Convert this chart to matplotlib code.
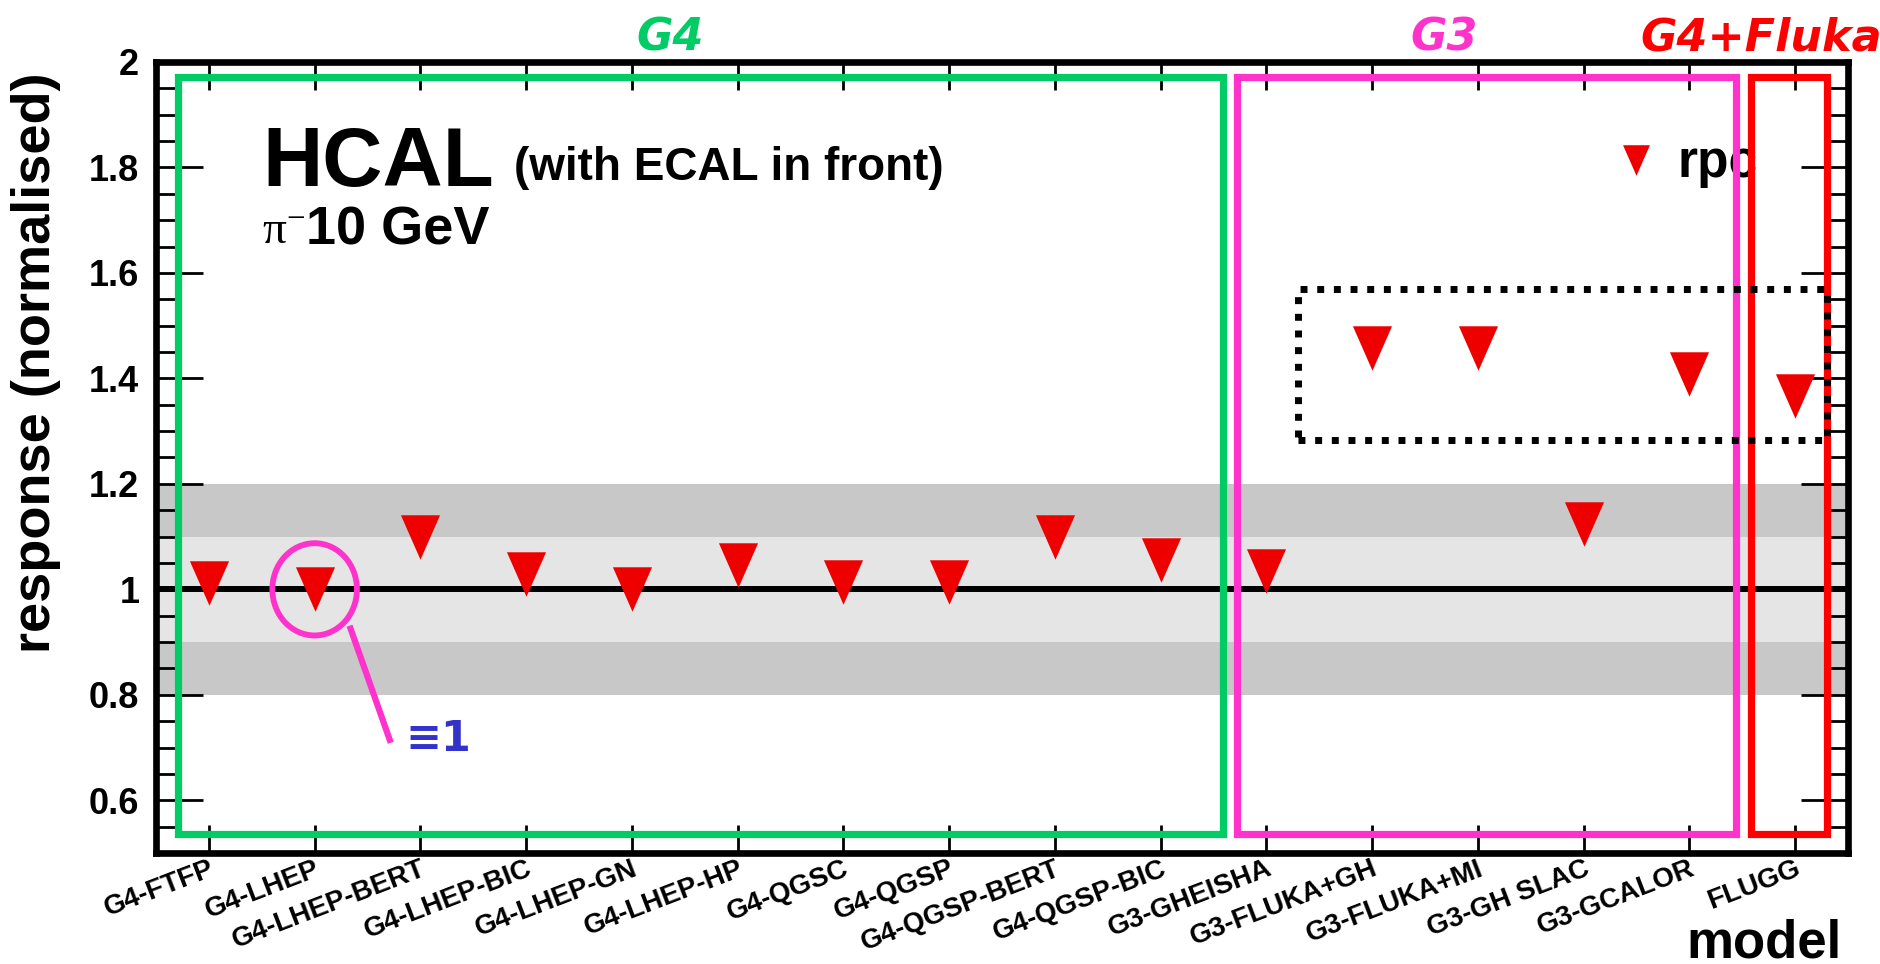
import matplotlib
matplotlib.use("Agg")
import matplotlib.pyplot as plt
from matplotlib.patches import Rectangle, Ellipse
from matplotlib.ticker import MultipleLocator, FormatStrFormatter
from matplotlib.transforms import blended_transform_factory

# data
models = ['G4-FTFP', 'G4-LHEP', 'G4-LHEP-BERT', 'G4-LHEP-BIC', 'G4-LHEP-GN',
          'G4-LHEP-HP', 'G4-QGSC', 'G4-QGSP', 'G4-QGSP-BERT', 'G4-QGSP-BIC',
          'G3-GHEISHA', 'G3-FLUKA+GH', 'G3-FLUKA+MI', 'G3-GH SLAC',
          'G3-GCALOR', 'FLUGG']
response = [1.012, 1.00, 1.100, 1.030, 1.00, 1.046, 1.013, 1.013, 1.099,
            1.056, 1.034, 1.457, 1.458, 1.123, 1.408, 1.366]
y_ticks = [0.6, 0.8, 1.0, 1.2, 1.4, 1.6, 1.8, 2.0]
outer_band = [0.8, 1.2]
inner_band = [0.9, 1.1]
reference_level = 1.0

group_names = ['G4', 'G3', 'G4+Fluka']
group_colors = ['#00cc66', '#ff33cc', '#ff0000']

plt.rcParams['font.family'] = ['Liberation Sans', 'DejaVu Sans']
plt.rcParams['font.weight'] = 'bold'

fig = plt.figure(figsize=(18.81, 9.64), dpi=100)
ax = fig.add_axes([0.08294, 0.11515, 0.89952, 0.82054])

x = list(range(len(models)))
ax.set_xlim(-0.5, len(models) - 0.5)
ax.set_ylim(0.5, 2.0)

# grey bands and the unit line
ax.axhspan(outer_band[0], outer_band[1], color='#c8c8c8', lw=0, zorder=0)
ax.axhspan(inner_band[0], inner_band[1], color='#e5e5e5', lw=0, zorder=0.5)
ax.axhline(reference_level, color='k', lw=4.3, zorder=1)

tri = [(-0.88, 1), (0.88, 1), (0, -1)]
ax.plot(x, response, ls='none', marker=tri, ms=32, color='#ee0000',
        markeredgewidth=0, zorder=3)

# axes styling
for side in ['top', 'bottom', 'left', 'right']:
    ax.spines[side].set_linewidth(4.8)
    ax.spines[side].set_zorder(10)
ax.set_xticks(x)
ax.set_xticklabels(models, rotation=21, ha='right', va='top',
                   rotation_mode='anchor', fontsize=20, fontweight='bold')
ax.set_yticks(y_ticks)
ax.yaxis.set_major_formatter(FormatStrFormatter('%g'))
ax.yaxis.set_minor_locator(MultipleLocator(0.05))
ax.tick_params(axis='y', which='major', direction='in', length=34, width=2,
               labelsize=26, pad=12, left=True, right=True)
ax.tick_params(axis='y', which='minor', direction='in', length=14, width=2,
               left=True, right=True)
ax.tick_params(axis='x', which='major', direction='in', length=20, width=2,
               pad=2, top=True, bottom=True)
for tl in ax.get_yticklabels():
    tl.set_fontweight('bold')

fig.text(36 / 1881, 1 - 72 / 964, 'response (normalised)', rotation=90,
         ha='center', va='top', fontsize=39, fontweight='bold')
fig.text(1842 / 1881, 1 - 958 / 964, 'model', ha='right', va='baseline',
         fontsize=38, fontweight='bold')

# titles inside the frame
ax.text(0.0626, 0.843, 'HCAL', transform=ax.transAxes, fontsize=60,
        fontweight='bold', va='baseline')
ax.text(0.2116, 0.851, '(with ECAL in front)', transform=ax.transAxes,
        fontsize=33, fontweight='bold', va='baseline')
ax.text(0.0626, 0.7696, r'$\mathregular{\pi^{-}}$', transform=ax.transAxes,
        family='Liberation Serif', fontweight='normal', fontsize=34,
        va='baseline')
ax.text(0.0885, 0.7696, '10 GeV', transform=ax.transAxes, fontsize=39,
        fontweight='bold', va='baseline')

# legend
ax.plot([0.8747], [0.876], ls='none', marker=tri, ms=22, color='#ee0000',
        markeredgewidth=0, transform=ax.transAxes, zorder=4)
ax.text(0.8995, 0.854, 'rpc', transform=ax.transAxes, fontsize=37,
        fontweight='bold', va='baseline', zorder=4)

# hand-drawn group boxes
box_x = [(-0.29, 9.59), (9.725, 14.445), (14.585, 15.30)]
box_y = (0.536, 1.971)
label_x = [4.36, 11.68, 14.68]
top_tr = blended_transform_factory(ax.transData, fig.transFigure)
for (x0, x1), name, col, lx in zip(box_x, group_names, group_colors, label_x):
    ax.add_patch(Rectangle((x0, box_y[0]), x1 - x0, box_y[1] - box_y[0],
                           fill=False, ec=col, lw=5.2, joinstyle='miter',
                           zorder=6))
    ax.text(lx, 0.948, name, transform=top_tr, color=col, fontsize=32,
            family='DejaVu Sans', fontweight='bold', style='italic',
            ha='center', va='baseline', clip_on=False)

ax.add_patch(Rectangle((10.3, 1.283), 5.0, 0.287, fill=False, ec='k', lw=5,
                       ls=(0, (1.0, 1.4)), zorder=7))

# circle marking the normalisation model
ax.add_patch(Ellipse((1, reference_level), 0.80, 0.175, fill=False,
                     ec='#ff33cc', lw=4.2, zorder=6))
ax.plot([1.33, 1.72], [0.931, 0.709], color='#ff33cc', lw=4.5, zorder=6,
        solid_capstyle='butt')
ax.text(2.17, 0.716, '\u22611', color='#3333cc', fontsize=31,
        family='DejaVu Sans', fontweight='bold', ha='center', va='center',
        zorder=6)

fig.savefig('out.png', dpi=100, facecolor='white')
